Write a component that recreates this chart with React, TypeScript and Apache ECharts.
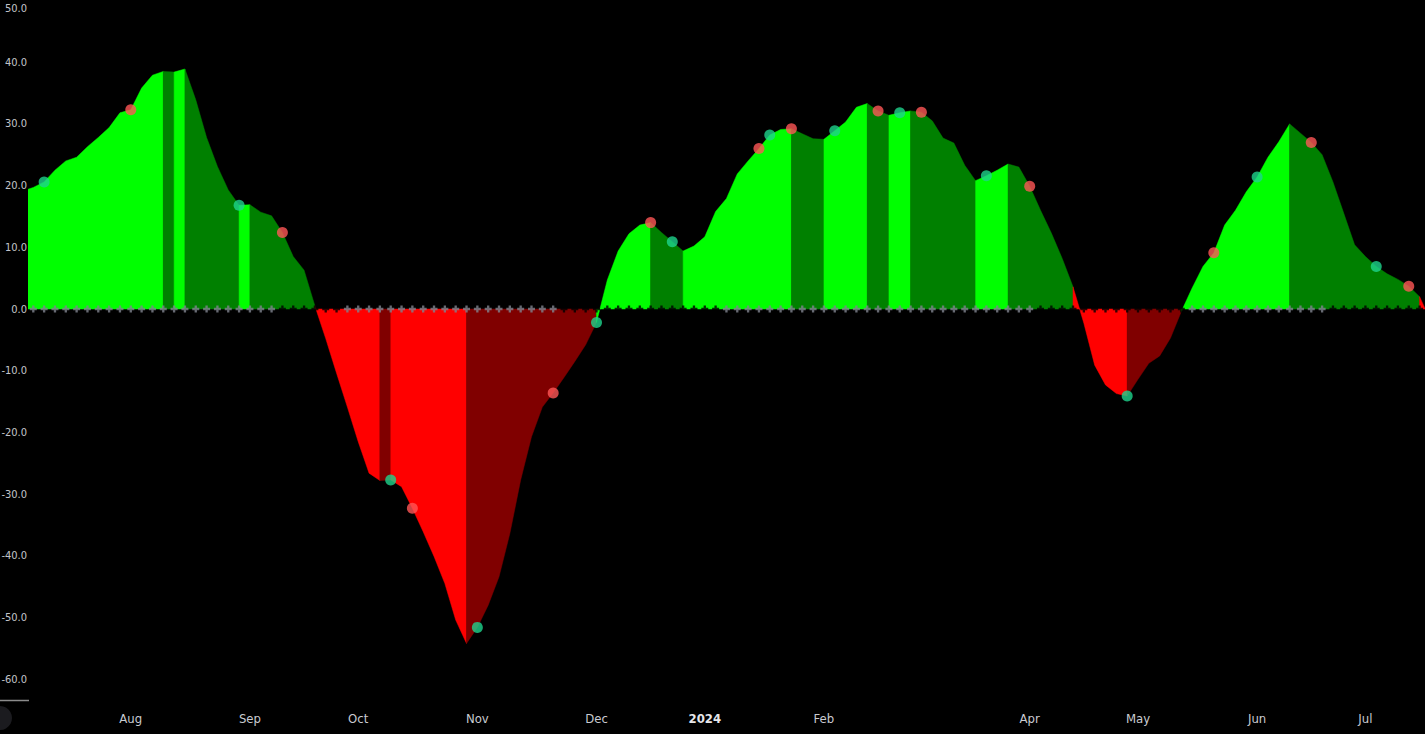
import React, { useEffect, useRef } from "react";
import * as echarts from "echarts";

// Squeeze-momentum style histogram (one value per bar, first bar index = -1)
const FIRST_BAR = -1;
const MOMENTUM = [
  19.1, 19.7, 20.6, 22.5, 24.0, 24.6, 26.3, 27.8, 29.4, 31.8, 32.3,
  35.8, 37.9, 38.5, 38.4, 38.9, 33.9, 27.8, 23.1, 19.3, 16.8,
  16.9, 15.7, 15.1, 12.4, 8.5, 6.3, 0.5, -4.8, -10.4, -15.9,
  -21.5, -26.6, -27.8, -27.7, -28.8, -32.3, -36.1, -40.1, -44.5, -50.4,
  -54.2, -51.6, -48.0, -43.4, -36.4, -27.7, -20.7, -15.9, -13.6, -11.1,
  -8.5, -5.8, -2.2, 4.7, 9.4, 12.2, 13.6, 14.0, 12.4, 10.9,
  9.4, 10.2, 11.7, 15.8, 17.9, 21.9, 24.0, 26.0, 28.2, 29.1,
  29.2, 28.4, 27.6, 27.5, 28.9, 30.3, 32.7, 33.3, 32.1, 31.4,
  31.8, 32.1, 31.9, 30.5, 27.7, 26.9, 23.3, 20.8, 21.6, 22.5,
  23.5, 23.0, 19.9, 16.0, 12.3, 8.2, 3.6, -2.3, -9.1, -12.3,
  -13.7, -14.1, -11.4, -8.8, -7.6, -4.7, -0.4, 3.4, 6.9, 9.1,
  13.6, 16.0, 19.0, 21.4, 24.6, 27.1, 30.0, 28.5, 27.0, 25.0,
  20.6, 15.5, 10.4, 8.5, 6.9, 5.7, 4.8, 3.7, 2.0, -1.8,
];

const MONTH_BARS = [9, 20, 30, 41, 52, 62, 73, 92, 102, 113, 123];
const MONTH_LABELS = ["Aug", "Sep", "Oct", "Nov", "Dec", "2024", "Feb", "Apr", "May", "Jun", "Jul"];
const Y_TICKS = [50, 40, 30, 20, 10, 0, -10, -20, -30, -40, -50, -60];

// zero-line cross markers: bars 0..128, squeeze-on runs drawn black
const CROSS_FIRST = 0;
const CROSS_LAST = 128;
const SQUEEZE_ON_RUNS = [
  [23, 28],
  [49, 63],
  [93, 106],
  [120, 128],
];

// signal dots
const BUY_DOTS = [1, 19, 33, 41, 52, 59, 68, 74, 80, 88, 101, 113, 124];
const SELL_DOTS = [9, 23, 35, 48, 57, 67, 70, 78, 82, 92, 109, 118, 127];

const LIME = "#00ff00";
const GREEN = "#008000";
const RED = "#ff0000";
const MAROON = "#800000";

const valueAt = (k: number) => MOMENTUM[k - FIRST_BAR];

export default function App() {
  const ref = useRef<HTMLDivElement>(null);

  useEffect(() => {
    if (!ref.current) return;
    const chart = echarts.init(ref.current, undefined, { renderer: "svg" });

    const areaData = MOMENTUM.map((v, i) => [FIRST_BAR + i, v]);
    // colour of segment ending at data index i
    const segColor = MOMENTUM.map((v, i) => {
      if (i === 0) return null;
      const p = MOMENTUM[i - 1];
      return v > 0 ? (v > p ? LIME : GREEN) : v < p ? RED : MAROON;
    });
    // run end (inclusive) for each run start
    const runEnd: Record<number, number> = {};
    let s = 1;
    for (let i = 2; i <= MOMENTUM.length; i++) {
      if (i === MOMENTUM.length || segColor[i] !== segColor[s]) {
        runEnd[s] = i - 1;
        s = i;
      }
    }

    const isOn = (k: number) => SQUEEZE_ON_RUNS.some(([a, b]) => k >= a && k <= b);
    const grayCross: number[][] = [];
    const blackCross: number[][] = [];
    for (let k = CROSS_FIRST; k <= CROSS_LAST; k++) {
      (isOn(k) ? blackCross : grayCross).push([k, 0]);
    }
    const crossPath = "path://M2,0H4V2H6V4H4V6H2V4H0V2H2Z";
    const font = "'DejaVu Sans Condensed', 'Liberation Sans Narrow', 'DejaVu Sans', sans-serif";
    const topTick = Math.max(...Y_TICKS);

    chart.setOption({
      animation: false,
      backgroundColor: "#000000",
      grid: { left: 78, right: 0, top: 9.65, bottom: 34, containLabel: false },
      xAxis: {
        type: "value",
        min: -0.49,
        max: 128.5,
        axisLine: { show: false },
        axisTick: { show: false },
        splitLine: { show: false },
        axisLabel: {
          customValues: MONTH_BARS,
          margin: 12,
          color: "#c9cbd1",
          fontSize: 13,
          fontFamily: font,
          formatter: (val: number) => {
            const idx = MONTH_BARS.indexOf(Math.round(val));
            if (idx < 0) return "";
            const lab = MONTH_LABELS[idx];
            return /^\d{4}$/.test(lab) ? `{b|${lab}}` : lab;
          },
          rich: {
            b: { fontWeight: "bold", color: "#e6e7ea", fontSize: 13, fontFamily: font },
          },
        },
      },
      yAxis: {
        type: "value",
        min: -63.37,
        max: 55,
        axisLine: { show: false },
        axisTick: { show: false },
        splitLine: { show: false },
        axisLabel: {
          customValues: Y_TICKS,
          formatter: (v: number) => (v === topTick ? `{t|${v.toFixed(1)}}` : v.toFixed(1)),
          align: "right",
          margin: 1,
          color: "#c2c4ca",
          fontSize: 11,
          fontFamily: font,
          rich: {
            t: { padding: [15, 0, 0, 0], color: "#c2c4ca", fontSize: 11, fontFamily: font },
          },
        },
      },
      graphic: [
        {
          type: "line",
          shape: { x1: 50, y1: 740.5, x2: 79, y2: 740.5 },
          style: { stroke: "#8c8c8c", lineWidth: 1.5 },
          silent: true,
        },
        {
          type: "circle",
          shape: { cx: 50, cy: 758, r: 12 },
          style: { fill: "#1b1b1f" },
          silent: true,
        },
      ],
      series: [
        {
          type: "custom",
          clip: true,
          data: areaData,
          encode: { x: 0, y: 1 },
          renderItem: (params: any, api: any) => {
            const i = params.dataIndex;
            const end = runEnd[i];
            if (end === undefined) return null;
            const color = segColor[i] as string;
            const top: number[][] = [];
            for (let j = i - 1; j <= end; j++) {
              top.push(api.coord([FIRST_BAR + j, MOMENTUM[j]]));
            }
            const z1 = api.coord([FIRST_BAR + end, 0]);
            const z0 = api.coord([FIRST_BAR + i - 1, 0]);
            return {
              type: "polygon",
              shape: { points: [...top, z1, z0] },
              style: { fill: color, stroke: color, lineWidth: 0.5 },
            };
          },
          z: 1,
        },
        {
          type: "scatter",
          data: grayCross,
          symbol: crossPath,
          symbolSize: 7,
          itemStyle: { color: "#80838f" },
          silent: true,
          z: 3,
        },
        {
          type: "scatter",
          data: blackCross,
          symbol: crossPath,
          symbolSize: 7,
          itemStyle: { color: "#000000" },
          silent: true,
          z: 3,
        },
        {
          type: "scatter",
          data: BUY_DOTS.map((k) => [k, valueAt(k)]),
          symbol: "circle",
          symbolSize: 11,
          itemStyle: { color: "#1ed38c" },
          silent: true,
          z: 4,
        },
        {
          type: "scatter",
          data: SELL_DOTS.map((k) => [k, valueAt(k)]),
          symbol: "circle",
          symbolSize: 11,
          itemStyle: { color: "#ff5656" },
          silent: true,
          z: 4,
        },
      ],
    });

    return () => chart.dispose();
  }, []);

  return (
    <div
      ref={ref}
      style={{ position: "fixed", left: -50, top: -40, width: 1475, height: 774, background: "#000" }}
    />
  );
}
